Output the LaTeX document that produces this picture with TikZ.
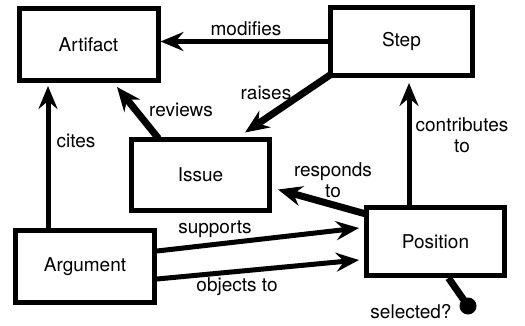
\documentclass[tikz,border=0pt]{standalone}
\usepackage{fontspec}
\setmainfont{TeX Gyre Heros}
\usetikzlibrary{arrows.meta}
\begin{document}
\begin{tikzpicture}[x=1pt,y=-1pt,
  box/.style={draw, line width=5pt, rectangle, inner sep=0pt},
  lbl/.style={font=\fontsize{19}{21}\selectfont, inner sep=0pt, align=center},
  conn/.style={line width=5pt, -{Stealth[length=23pt,width=19pt,inset=8pt]}},
  thick conn/.style={line width=7pt, -{Stealth[length=24pt,width=20pt,inset=8pt]}},
  every node/.style={font=\fontsize{19}{21}\selectfont}]
\useasboundingbox (0,0) rectangle (525,325);
% boxes
\node[box, minimum width=139pt, minimum height=72pt] (art) at (88.5,44.5) {Artifact};
\node[box, minimum width=142pt, minimum height=68pt] (step) at (401.5,41.5) {Step};
\node[box, minimum width=138pt, minimum height=71pt] (iss) at (200.5,174.5) {Issue};
\node[box, minimum width=139pt, minimum height=72pt] (arg) at (85,266.5) {Argument};
\node[box, minimum width=138pt, minimum height=68pt] (pos) at (435.5,241.5) {Position};
\node[circle, fill=black, minimum size=17pt, inner sep=0pt] (dot) at (468,306) {};
% connectors
\draw[conn, line width=4.5pt] (step.west) -- (art.east |- step.west);
\draw[thick conn] ([xshift=2pt,yshift=3pt]step.south west) -- ([xshift=-27pt,yshift=4pt]iss.north east);
\draw[thick conn] ([xshift=-42pt,yshift=-2pt]iss.north) -- ([xshift=28.5pt,yshift=-4pt]art.south);
\draw[conn] ([xshift=-37pt]arg.north) -- ([xshift=-37pt,yshift=-3pt]arg.north |- art.south);
\draw[conn] ([yshift=15.5pt]arg.east) -- ([xshift=-5pt,yshift=13.5pt]pos.west);
\draw[conn] ([yshift=-12.5pt]arg.east) -- ([xshift=-5pt,yshift=-18.5pt]pos.west);
\draw[thick conn] ([xshift=2pt,yshift=-9pt]pos.north west) -- ([xshift=6pt,yshift=-15pt]iss.east);
\draw[conn] ([xshift=-26.5pt]pos.north) -- ([xshift=-26.5pt,yshift=-5pt]pos.north |- step.south);
\draw[line width=7pt] ([xshift=13pt]pos.south) -- (dot.center);
% labels
\node[lbl] (lmod) at (246,29) {modifies};
\node[lbl] (lrai) at (266,93) {raises};
\node[lbl] (lrev) at (181,110) {reviews};
\node[lbl] (lcit) at (76,141) {cites};
\node[lbl] (lsup) at (215,229) {supports};
\node[lbl] (lobj) at (237,287) {objects to};
\node[lbl] (lres) at (333,180) {responds\\to};
\node[lbl] (lcon) at (462,135) {contributes\\to};
\node[lbl] (lsel) at (411,312) {selected?};
\end{tikzpicture}
\end{document}
